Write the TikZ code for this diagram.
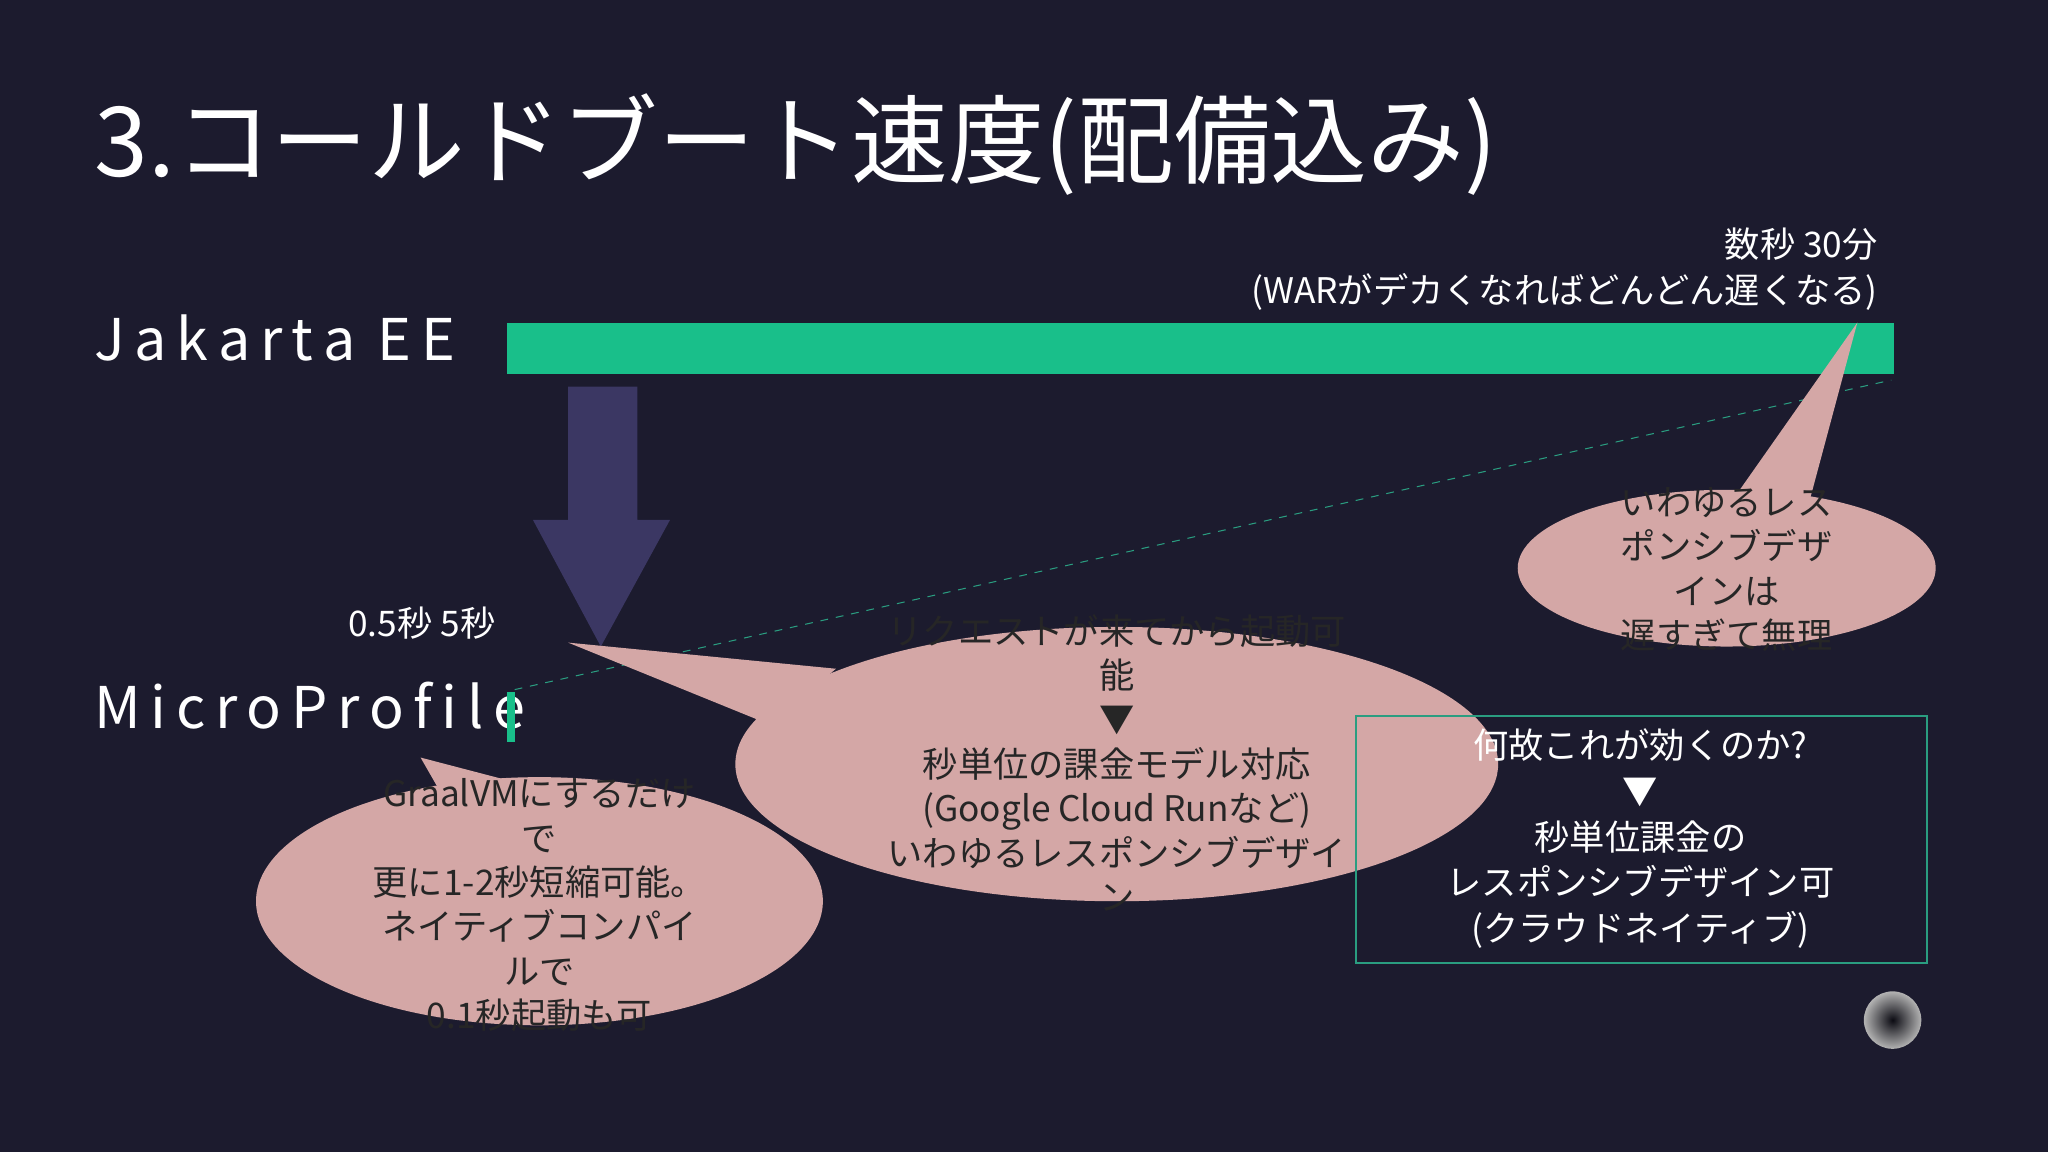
\documentclass[tikz,border=0pt]{standalone}
\usepackage{fontspec}
\setmainfont{Noto Sans CJK JP}
\usetikzlibrary{shapes.geometric}
\definecolor{bg}{HTML}{1C1B2E}
\definecolor{eegreen}{HTML}{19BF8A}
\definecolor{arrowp}{HTML}{3B3763}
\definecolor{pinkc}{HTML}{D4A7A6}
\definecolor{teal}{HTML}{2A9D80}
\begin{document}
\begin{tikzpicture}[x=0.5pt,y=-0.5pt,
  wt/.style={text=white,inner sep=0pt},
  ct/.style={text=black!85,font=\fontsize{13.5}{17}\selectfont,align=center,inner sep=0pt},
  bubble/.style={fill=pinkc,draw=none}]
\fill[bg] (0,0) rectangle (1568,882);
\useasboundingbox (0,0) rectangle (1568,882);
\node[wt,anchor=base west,font=\fontsize{37}{40}\selectfont] (title) at (72,135) {3.コールドブート速度(配備込み)};
\node[wt,anchor=base west,font=\fontsize{22}{26}\selectfont] (jee) at (72,276) {J\,a\,k\,a\,r\,t\,a\, E\,E};
\node[wt,anchor=base west,font=\fontsize{22}{26}\selectfont] (mp) at (72,558) {M\,i\,c\,r\,o\,P\,r\,o\,f\,i\,l\,e};
\fill[eegreen] (388,247) rectangle (1450,286);
\fill[eegreen] (388,530) rectangle (394,568);
\coordinate (d1) at (394,528); \coordinate (d2) at (1448,291);
\draw[teal,dashed,thin] (d1) -- (d2);
\node[wt,anchor=east,align=right,font=\fontsize{13.5}{17.5}\selectfont] (wt1) at (1438,206) {数秒~30分\\(WARがデカくなればどんどん遅くなる)};
\fill[arrowp] (435,296) -- (488,296) -- (488,398) -- (513,398) -- (460,495) -- (408,398) -- (435,398) -- cycle;
\node[wt,font=\fontsize{13.5}{17}\selectfont] (t05) at (323,477) {0.5秒~5秒};
% bubble 1
\fill[bubble] (1422,247) -- (1385,385) -- (1325,385) -- cycle;
\fill[bubble] (1322,435) ellipse [x radius=160, y radius=60];
\node[ct] (b1) at (1322,436) {いわゆるレス\\ポンシブデザ\\インは\\遅すぎて無理};
% bubble 2
\fill[bubble] (435,492) -- (640,512) -- (590,555) -- cycle;
\fill[bubble] (855,585) ellipse [x radius=292, y radius=105];
\node[ct] (b2) at (855,584) {リクエストが来てから起動可\\能\\▼\\秒単位の課金モデル対応\\(Google Cloud Runなど)\\いわゆるレスポンシブデザイ\\ン};
% bubble 3
\fill[bubble] (322,580) -- (410,603) -- (345,620) -- cycle;
\fill[bubble] (413,690) ellipse [x radius=217, y radius=95];
\node[ct] (b3) at (413,693) {GraalVMにするだけ\\で\\更に1-2秒短縮可能。\\ネイティブコンパイ\\ルで\\0.1秒起動も可};
% box
\draw[teal,thick] (1038,548) rectangle (1475,737);
\node[wt,align=center,font=\fontsize{13.5}{17.5}\selectfont] (bx) at (1256,642) {何故これが効くのか?\\▼\\秒単位課金の\\レスポンシブデザイン可\\(クラウドネイティブ)};
\shade[inner color=black!60!bg,outer color=gray!60] (1449,781) circle (22);
\end{tikzpicture}
\end{document}
